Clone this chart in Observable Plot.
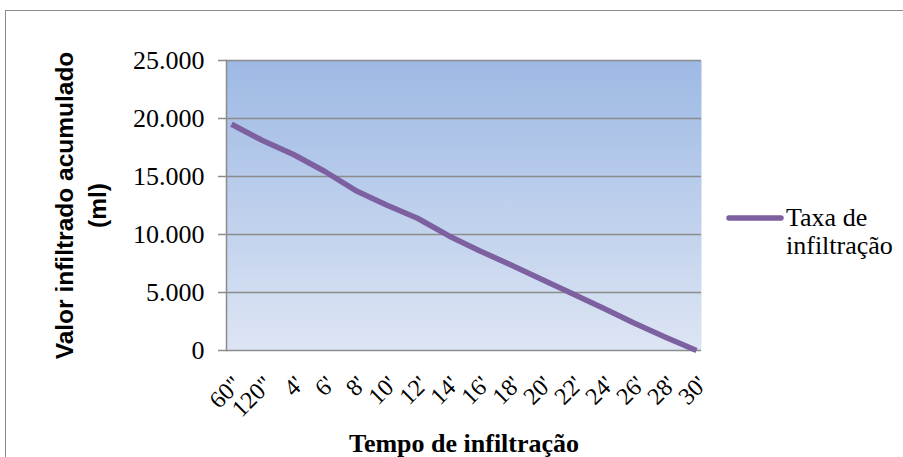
<!DOCTYPE html>
<html>
<head>
<meta charset="utf-8">
<script src="https://cdn.jsdelivr.net/npm/d3@7"></script>
<script src="https://cdn.jsdelivr.net/npm/@observablehq/plot@0.6"></script>
<style>
  html, body { margin: 0; padding: 0; background: #fff; }
  #wrap { position: relative; width: 903px; height: 457px; overflow: hidden; background: #fff; }
  #border { position: absolute; left: 5px; top: 10px; width: 900px; height: 470px; border: 1.5px solid #8c8c8c; box-sizing: border-box; }
  #chart { position: absolute; left: 0; top: 0; }
  #legend { position: absolute; left: 726px; top: 204px; font-family: "Liberation Serif", serif; font-size: 26px; line-height: 28px; color: #000; display: flex; align-items: flex-start; }
  #legend svg { margin-top: 4px; margin-right: 2px; }
</style>
</head>
<body>
<div id="wrap">
  <div id="border"></div>
  <div id="chart"></div>
  <div id="legend"></div>
</div>
<script>
const categories = ['60"', '120"', "4'", "6'", "8'", "10'", "12'", "14'", "16'", "18'", "20'", "22'", "24'", "26'", "28'", "30'"];
const values = [19500, 18100, 16900, 15450, 13800, 12550, 11400, 9900, 8600, 7400, 6150, 4900, 3650, 2350, 1150, 0];
const yTicks = [0, 5000, 10000, 15000, 20000, 25000];
const seriesName = "Taxa de infiltração";
const xTitle = "Tempo de infiltração";
const yTitle = "Valor infiltrado acumulado\n(ml)";

const data = categories.map((c, i) => ({t: c, v: values[i]}));
const ptBR = d3.formatLocale({decimal: ",", thousands: ".", grouping: [3], currency: ["R$", ""]});
const fmt = ptBR.format(",");

const plot = Plot.plot({
  width: 903,
  height: 457,
  marginLeft: 226,
  marginRight: 202,
  marginTop: 60,
  marginBottom: 107,
  style: {fontFamily: "Liberation Serif, serif", color: "#000", background: "transparent", overflow: "visible"},
  x: {type: "point", domain: categories, padding: 0},
  y: {domain: [0, 25000]},
  marks: [
    Plot.frame({fill: "url(#bgGrad)", stroke: null}),
    Plot.gridY(yTicks, {stroke: "#8c8c8c", strokeOpacity: 1, strokeWidth: 1.5}),
    Plot.frame({anchor: "left", stroke: "#8c8c8c", strokeWidth: 1.5}),
    Plot.axisY(yTicks, {tickSize: 8, tickPadding: 14, tickFormat: fmt, fontSize: 26, stroke: "#8c8c8c", strokeWidth: 1.5, fill: "#000", label: null}),
    Plot.axisX({tickSize: 0, tickPadding: 30, tickRotate: -45, fontSize: 24, textAnchor: "end", dx: 6, fill: "#000", label: null}),
    Plot.lineY(data, {x: "t", y: "v", stroke: "#7d60a0", strokeWidth: 5.5, strokeLinejoin: "round", strokeLinecap: "butt"}),
    Plot.text([xTitle], {frameAnchor: "bottom", dy: 93, fontSize: 26, fontWeight: "bold", textAnchor: "middle", lineAnchor: "middle", fill: "#000"}),
    Plot.text([yTitle], {frameAnchor: "left", dx: -148, rotate: -90, fontSize: 24.5, fontWeight: "bold", lineHeight: 1.35, textAnchor: "middle", lineAnchor: "middle", fontFamily: "Liberation Sans, sans-serif", fill: "#000"})
  ]
});

const ns = "http://www.w3.org/2000/svg";
const defs = document.createElementNS(ns, "defs");
defs.innerHTML = '<linearGradient id="bgGrad" x1="0" y1="0" x2="0" y2="1"><stop offset="0" stop-color="#9db9e4"/><stop offset="1" stop-color="#dde5f4"/></linearGradient>';
plot.insertBefore(defs, plot.firstChild);
document.getElementById("chart").appendChild(plot);

const legend = document.getElementById("legend");
legend.innerHTML = '<svg width="58" height="20"><line x1="3" y1="10" x2="55" y2="10" stroke="#7d60a0" stroke-width="5.5" stroke-linecap="round"/></svg><div>Taxa de<br>infiltração</div>';
</script>
</body>
</html>
